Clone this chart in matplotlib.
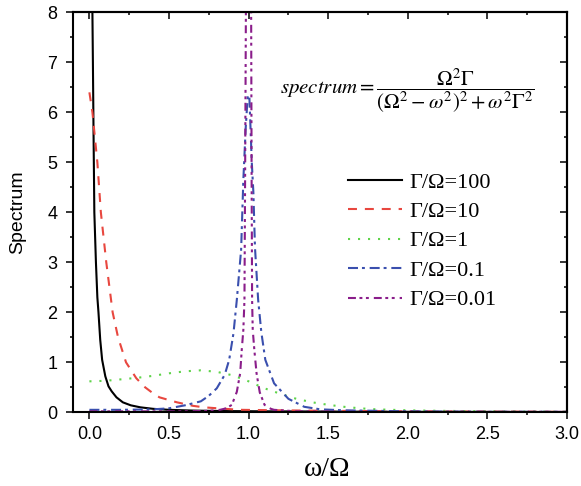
import matplotlib
matplotlib.use("Agg")
import matplotlib.pyplot as plt
from matplotlib.ticker import MultipleLocator

plt.rcParams["mathtext.fontset"] = "stix"

# values (x = omega/Omega, y = spectrum)
x_g100 = [0.018, 0.022, 0.026, 0.031, 0.036, 0.041, 0.050, 0.057, 0.068, 0.080,
          0.10, 0.12, 0.14, 0.17, 0.21, 0.26, 0.32, 0.40, 0.50, 0.65, 0.85,
          1.1, 1.5, 2.0, 2.5, 3.0]
y_g100 = [8.3, 7.0, 5.6, 4.0, 3.5, 3.0, 2.3, 2.0, 1.45, 1.05,
          0.72, 0.52, 0.42, 0.30, 0.20, 0.14, 0.10, 0.07, 0.05, 0.035, 0.025,
          0.02, 0.015, 0.01, 0.008, 0.006]

x_g10 = [0.0, 0.019, 0.05, 0.072, 0.106, 0.146, 0.18, 0.23, 0.295, 0.35, 0.40,
         0.44, 0.55, 0.65, 0.72, 0.85, 0.95, 1.2, 1.5, 2.0, 2.5, 3.0]
y_g10 = [6.4, 6.0, 5.0, 4.0, 3.0, 2.0, 1.5, 1.0, 0.68, 0.5, 0.38,
         0.30, 0.20, 0.13, 0.10, 0.07, 0.05, 0.04, 0.03, 0.02, 0.015, 0.01]

x_g1 = [0.0, 0.1, 0.2, 0.3, 0.4, 0.5, 0.6, 0.7, 0.8, 0.9, 1.0, 1.1, 1.2, 1.3,
        1.4, 1.5, 1.6, 1.7, 1.8, 2.0, 2.2, 2.5, 3.0]
y_g1 = [0.62, 0.63, 0.66, 0.69, 0.73, 0.78, 0.82, 0.84, 0.81, 0.74, 0.62, 0.48,
        0.37, 0.27, 0.20, 0.15, 0.11, 0.08, 0.06, 0.04, 0.03, 0.02, 0.01]

x_g01 = [0.0, 0.2, 0.4, 0.5, 0.6, 0.7, 0.75, 0.8, 0.85, 0.878, 0.905, 0.926,
         0.953, 0.967, 0.982, 0.995, 1.005, 1.02, 1.03, 1.04, 1.06, 1.08,
         1.105, 1.16, 1.25, 1.35, 1.45, 1.6, 1.8, 2.0, 2.5, 3.0]
y_g01 = [0.05, 0.05, 0.06, 0.08, 0.14, 0.22, 0.33, 0.48, 0.75, 1.05, 1.58, 2.25,
         3.25, 4.65, 5.7, 6.35, 6.3, 5.0, 4.4, 3.3, 2.25, 1.6,
         1.05, 0.58, 0.27, 0.11, 0.06, 0.04, 0.03, 0.02, 0.01, 0.01]

x_g001 = [0.0, 0.3, 0.6, 0.75, 0.82, 0.86, 0.895, 0.926, 0.947, 0.957, 0.967,
          0.974, 0.978, 0.983, 0.99, 1.01, 1.016, 1.019, 1.022, 1.026, 1.036,
          1.05, 1.07, 1.10, 1.14, 1.16, 1.3, 1.6, 2.0, 3.0]
y_g001 = [0.02, 0.02, 0.02, 0.03, 0.05, 0.08, 0.15, 0.41, 0.78, 1.25, 1.65,
          2.25, 4.65, 8.0, 9.5, 9.5, 8.0, 4.65, 2.25, 1.65, 1.25,
          0.78, 0.40, 0.15, 0.07, 0.05, 0.02, 0.01, 0.01, 0.01]

labels = ["Γ/Ω=100", "Γ/Ω=10", "Γ/Ω=1", "Γ/Ω=0.1", "Γ/Ω=0.01"]

fig = plt.figure(figsize=(5.81, 4.86), dpi=100)
ax = fig.add_axes([0.1251, 0.1516, 0.8508, 0.8230])

lw = 1.5
ax.plot(x_g100, y_g100, color="black", lw=lw, label=labels[0])
ax.plot(x_g10, y_g10, color="#e8473f", lw=lw, ls=(0, (4.3, 3.8)), label=labels[1])
ax.plot(x_g1, y_g1, color="#5fd34a", lw=lw, ls=(0, (1, 3.8)), label=labels[2])
ax.plot(x_g01, y_g01, color="#3a4fae", lw=lw, ls=(0, (4.8, 1.9, 1.4, 2.3)),
        label=labels[3])
ax.plot(x_g001, y_g001, color="#8a1d8a", lw=lw,
        ls=(0, (3.8, 1.7, 1.4, 1.7, 1.4, 2.4)), label=labels[4])

for s in ax.spines.values():
    s.set_linewidth(1.5)

tick_font = {"family": "Liberation Sans", "size": 13}
ax.xaxis.set_major_locator(MultipleLocator(0.5))
ax.xaxis.set_minor_locator(MultipleLocator(0.25))
ax.yaxis.set_major_locator(MultipleLocator(1))
ax.yaxis.set_minor_locator(MultipleLocator(0.5))
xt = [0.0, 0.5, 1.0, 1.5, 2.0, 2.5, 3.0]
yt = [0, 1, 2, 3, 4, 5, 6, 7, 8]
ax.set_xticks(xt)
ax.set_xticklabels([f"{v:.1f}" for v in xt], fontdict=tick_font)
ax.set_yticks(yt)
ax.set_yticklabels([str(v) for v in yt], fontdict=tick_font)
ax.set_xlim(-0.105, 3.0)
ax.set_ylim(0, 8)
ax.tick_params(which="major", direction="out", length=5, width=1.1)
ax.tick_params(which="minor", direction="out", length=2.5, width=1.1)
ax.tick_params(axis="x", pad=5)
ax.tick_params(axis="y", pad=6)

# mirrored inward ticks on top and right
top = ax.secondary_xaxis("top")
top.xaxis.set_major_locator(MultipleLocator(0.5))
top.xaxis.set_minor_locator(MultipleLocator(0.25))
top.tick_params(which="major", direction="in", length=5, width=1.1, labeltop=False)
top.tick_params(which="minor", direction="in", length=2.5, width=1.1)
top.spines["top"].set_linewidth(1.5)
right = ax.secondary_yaxis("right")
right.yaxis.set_major_locator(MultipleLocator(1))
right.yaxis.set_minor_locator(MultipleLocator(0.5))
right.tick_params(which="major", direction="in", length=5, width=1.1, labelright=False)
right.tick_params(which="minor", direction="in", length=2.5, width=1.1)
right.spines["right"].set_linewidth(1.5)

ax.set_ylabel("Spectrum", family="Liberation Sans", fontsize=14)
ax.yaxis.set_label_coords(-0.094, 0.5)
ax.set_xlabel("ω/Ω", family="Liberation Serif", fontsize=20)
ax.xaxis.set_label_coords(0.515, -0.144)
ax.xaxis.label.set_verticalalignment("center")

fig.text(280 / 581, 1 - 91 / 486,
         r"$spectrum=\dfrac{\Omega^2\Gamma}{(\Omega^2-\omega^2)^2+\omega^2\Gamma^2}$",
         fontsize=15, ha="left", va="center")

ax.legend(loc="upper left", bbox_to_anchor=(348 / 581, 1 - 172 / 486),
          bbox_transform=fig.transFigure, frameon=False, borderpad=0,
          borderaxespad=0, handlelength=2.43, handletextpad=0.32,
          labelspacing=0.4, prop={"family": "Liberation Serif", "size": 16})

fig.savefig("out.png", dpi=100)
